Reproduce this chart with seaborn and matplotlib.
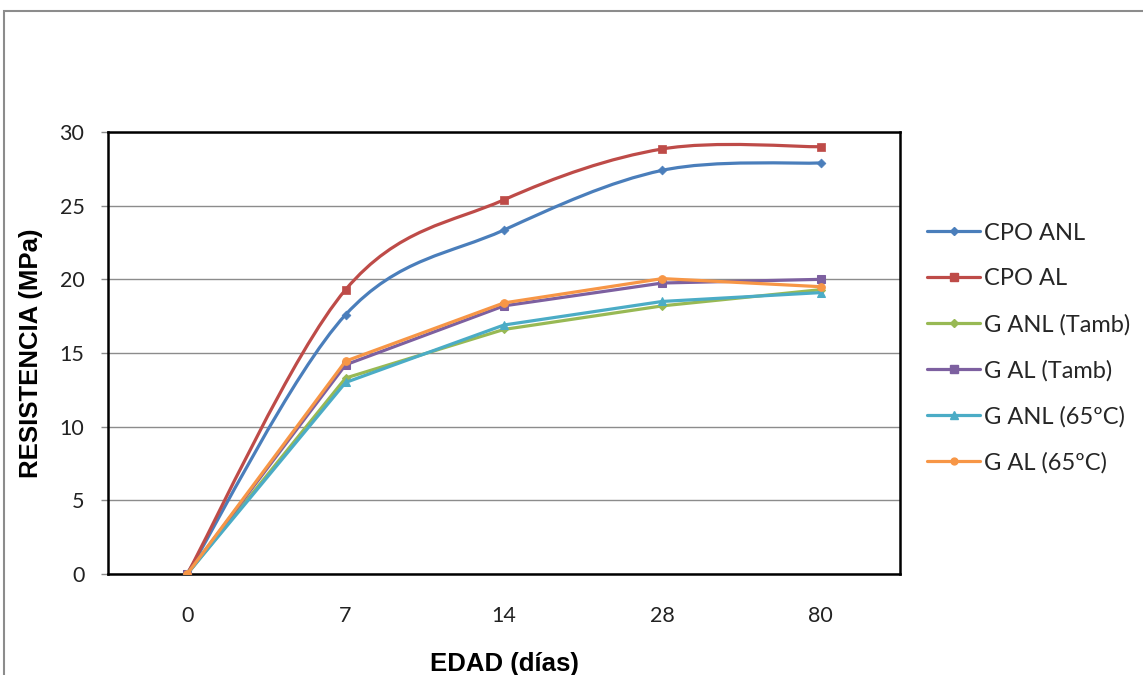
import numpy as np
import pandas as pd
import matplotlib
matplotlib.use("Agg")
import matplotlib.pyplot as plt
from matplotlib.path import Path
from matplotlib.patches import PathPatch, Rectangle
from matplotlib.lines import Line2D
import seaborn as sns

# ---- data ----
days = ["0", "7", "14", "28", "80"]
cpo_anl = [0, 17.6, 23.35, 27.4, 27.9]
cpo_al = [0, 19.3, 25.4, 28.85, 29.0]
g_anl_tamb = [0, 13.3, 16.6, 18.2, 19.3]
g_al_tamb = [0, 14.2, 18.2, 19.75, 20.0]
g_anl_65 = [0, 13.0, 16.9, 18.5, 19.1]
g_al_65 = [0, 14.45, 18.4, 20.05, 19.5]

series_names = ["CPO ANL", "CPO AL", "G ANL (Tamb)", "G AL (Tamb)", "G ANL (65ºC)", "G AL (65ºC)"]
series_vals = [cpo_anl, cpo_al, g_anl_tamb, g_al_tamb, g_anl_65, g_al_65]
colors = ["#4A7EBB", "#BE4B48", "#98B954", "#7D60A0", "#4BACC6", "#F79646"]
markers = ["D", "s", "D", "s", "^", "o"]
msizes = [4.5, 6, 4, 6, 6, 5.5]
smooth = [True, True, False, False, False, False]

pos = np.arange(len(days))
df = pd.DataFrame({
    "pos": np.tile(pos, len(series_names)),
    "value": np.concatenate(series_vals),
    "series": np.repeat(series_names, len(days)),
})

sns.set_theme(style="white")
plt.rcParams["font.family"] = ["Lato", "DejaVu Sans"]

W, H = 1143, 675
fig = plt.figure(figsize=(W / 100, H / 100), dpi=100)
ax = fig.add_axes([108 / W, 1 - 574 / H, (900 - 108) / W, (574 - 132) / H])


def bezier_path(xs, ys):
    pts = np.column_stack([xs, ys]).astype(float)
    n = len(pts)
    verts = [pts[0]]
    codes = [Path.MOVETO]
    for i in range(n - 1):
        p0 = pts[i - 1] if i > 0 else pts[i]
        p1 = pts[i]
        p2 = pts[i + 1]
        p3 = pts[i + 2] if i + 2 < n else pts[i + 1]
        c1 = p1 + (p2 - p0) / 6.0
        c2 = p2 - (p3 - p1) / 6.0
        verts += [c1, c2, p2]
        codes += [Path.CURVE4] * 3
    return Path(verts, codes)


for name, vals, col, mk, ms, sm in zip(series_names, series_vals, colors, markers, msizes, smooth):
    sub = df[df["series"] == name]
    if sm:
        patch = PathPatch(bezier_path(pos, vals), facecolor="none", edgecolor=col,
                          lw=2.3, transform=ax.transData, zorder=3)
        ax.add_patch(patch)
        sns.scatterplot(data=sub, x="pos", y="value", color=col, marker=mk,
                        s=ms ** 2, edgecolor=col, linewidth=0.5, ax=ax, zorder=4, legend=False)
    else:
        sns.lineplot(data=sub, x="pos", y="value", color=col, marker=mk,
                     markersize=ms, markeredgecolor=col, lw=2.3, ax=ax, zorder=4, legend=False)

ax.set_xlim(-0.5, len(days) - 0.5)
ax.set_ylim(0, 30)
ax.set_yticks(np.arange(0, 31, 5))
ax.set_xticks(pos)
ax.set_xticklabels(days)
ax.tick_params(axis="both", labelsize=15.5, labelcolor="#222222")
ax.tick_params(axis="x", length=0, pad=23)
ax.tick_params(axis="y", left=True, length=5, width=1, color="#8c8c8c", pad=12)
ax.yaxis.grid(True, color="#8c8c8c", lw=1)
ax.xaxis.grid(False)
for s in ax.spines.values():
    s.set_color("black")
    s.set_linewidth(1.8)

lab_font = dict(family=["Liberation Sans", "DejaVu Sans"], fontsize=18.5, fontweight="bold", color="black")
ax.set_xlabel("EDAD (días)", **lab_font)
ax.set_ylabel("RESISTENCIA (MPa)", **lab_font)
ax.xaxis.set_label_coords(0.5, (574 - 652) / (574 - 132))
ax.yaxis.set_label_coords((43 - 108) / (900 - 108), 0.5)

handles = [Line2D([0], [0], color=c, lw=2.3, marker=m, markersize=ms * 0.9, markeredgecolor=c)
           for c, m, ms in zip(colors, markers, msizes)]
fig.legend(handles, series_names, loc="center left", bbox_to_anchor=(927 / W, 1 - 348 / H),
           frameon=False, fontsize=17, handlelength=2.25, handletextpad=0.17, labelspacing=1.04,
           borderpad=0, borderaxespad=0)

fig.patches.append(Rectangle((4 / W, -0.1), 1.2, (1 - 11 / H) + 0.1, transform=fig.transFigure,
                             fill=False, edgecolor="#8c8c8c", lw=1.5))

fig.savefig("out.png", dpi=100)
